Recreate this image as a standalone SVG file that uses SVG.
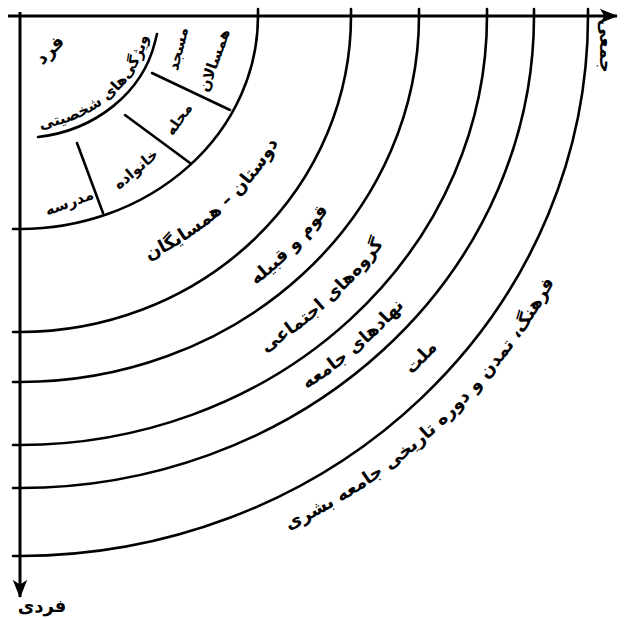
<svg xmlns="http://www.w3.org/2000/svg" xmlns:xlink="http://www.w3.org/1999/xlink" width="625" height="618" viewBox="0 0 625 618">
<style>
.ln{fill:none;stroke:#000;stroke-width:2.6;stroke-linecap:round}
.ax{fill:none;stroke:#000;stroke-width:3}
.t{font-family:"DejaVu Sans",sans-serif;font-weight:bold;font-size:18px;fill:#000}
.s{font-size:15px}
.g{fill:none;stroke:none}
</style>
<defs>
<marker id="arr" viewBox="0 0 20 16" refX="19" refY="8" markerWidth="18" markerHeight="15" markerUnits="userSpaceOnUse" orient="auto">
<path d="M0,0 L20,8 L0,16 L5,8 z" fill="#000"/>
</marker>
<path id="p0" class="g" d="M20,130 A130,114 0 0 0 150,16"/>
<path id="p1" class="g" d="M20,288 A292,272 0 0 0 312,16"/>
<path id="p2" class="g" d="M20,364 A372,348 0 0 0 392,16"/>
<path id="p3" class="g" d="M20,421 A440,405 0 0 0 460,16"/>
<path id="p4" class="g" d="M20,473 A497,457 0 0 0 517,16"/>
<path id="p5" class="g" d="M20,529 A548,513 0 0 0 568,16"/>
<path id="p6" class="g" d="M20,590 A603,574 0 0 0 623,16"/>
</defs>
<rect width="625" height="618" fill="#fff"/>
<g id="connectors">
<line class="ax" x1="8" y1="16" x2="617" y2="16" marker-end="url(#arr)"/>
<line class="ax" x1="20" y1="12" x2="20" y2="597" marker-end="url(#arr)"/>
<path class="ln" d="M13,229 L20,229 A238,213 0 0 0 258,16 L258,9"/>
<path class="ln" d="M13,332 L20,332 A331,316 0 0 0 351,16 L351,9"/>
<path class="ln" d="M13,382 L20,382 A399,366 0 0 0 419,16 L419,9"/>
<path class="ln" d="M13,445 L20,445 A467,429 0 0 0 487,16 L487,9"/>
<path class="ln" d="M13,488 L20,488 A514,472 0 0 0 534,16 L534,9"/>
<path class="ln" d="M13,556 L20,556 A568,540 0 0 0 588,16 L588,9"/>
<path class="ln" d="M38,137 A138,122 0 0 0 155,42 l2,-8"/>
<line class="ln" x1="152" y1="73" x2="230" y2="110"/>
<line class="ln" x1="125" y1="115" x2="190" y2="163"/>
<line class="ln" x1="77" y1="143" x2="103" y2="213"/>
</g>
<g id="node-core">
<text class="t" transform="translate(54,54) rotate(-45)" text-anchor="middle">فرد</text>
<text class="t s"><textPath xlink:href="#p0" startOffset="50%" text-anchor="middle">ویژگی‌های شخصیتی</textPath></text>
</g>
<g id="node-cells">
<text class="t s" transform="translate(183,50) rotate(-76)" text-anchor="middle">مسجد</text>
<text class="t s" transform="translate(219,62) rotate(-70)" text-anchor="middle">همسالان</text>
<text class="t s" transform="translate(183,122) rotate(-55)" text-anchor="middle">محله</text>
<text class="t s" transform="translate(139,173) rotate(-40)" text-anchor="middle">خانواده</text>
<text class="t s" transform="translate(71,207) rotate(-20)" text-anchor="middle">مدرسه</text>
</g>
<g id="node-ring1"><text class="t"><textPath xlink:href="#p1" startOffset="50%" text-anchor="middle">دوستان – همسایگان</textPath></text></g>
<g id="node-ring2"><text class="t"><textPath xlink:href="#p2" startOffset="54%" text-anchor="middle">قوم و قبیله</textPath></text></g>
<g id="node-ring3"><text class="t"><textPath xlink:href="#p3" startOffset="51%" text-anchor="middle">گروه‌های اجتماعی</textPath></text></g>
<g id="node-ring4"><text class="t"><textPath xlink:href="#p4" startOffset="49%" text-anchor="middle">نهادهای جامعه</textPath></text></g>
<g id="node-ring5"><text class="t"><textPath xlink:href="#p5" startOffset="54%" text-anchor="middle">ملت</textPath></text></g>
<g id="node-ring6"><text class="t"><textPath xlink:href="#p6" startOffset="50%" text-anchor="middle">فرهنگ، تمدن و دوره تاریخی جامعه بشری</textPath></text></g>
<g id="node-axis-top"><text class="t" transform="translate(600,46) rotate(90)" text-anchor="middle">جمعی</text></g>
<g id="node-axis-bottom"><text class="t" x="42" y="612" text-anchor="middle">فردی</text></g>
</svg>
